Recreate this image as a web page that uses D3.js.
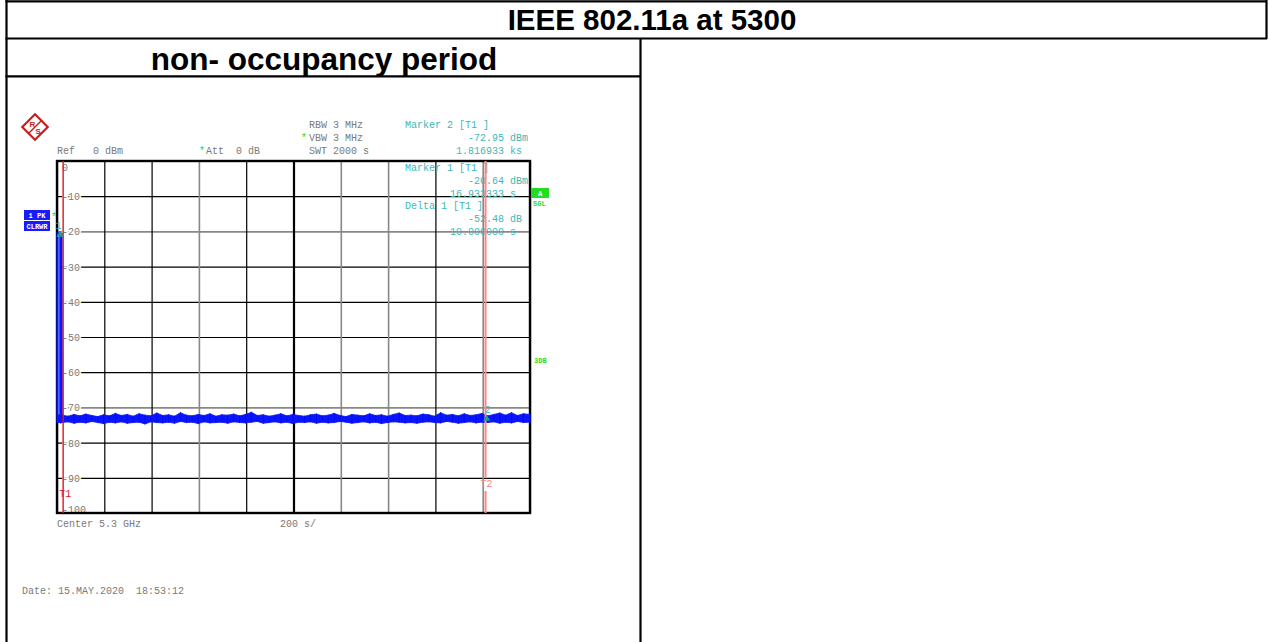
<!DOCTYPE html>
<html><head><meta charset="utf-8">
<script src="https://cdn.jsdelivr.net/npm/d3@7"></script>
<style>
body{margin:0;background:#fff;}
svg{display:block;}
.mono{font-family:"Liberation Mono","DejaVu Sans Mono",monospace;font-size:10px;}
</style></head><body>
<svg id="c" width="1269" height="642"></svg>
<script>
// ---------- data ----------
const mainTitle = "IEEE 802.11a at 5300";
const subTitle = "non- occupancy period";
const yTicks = [0,-10,-20,-30,-40,-50,-60,-70,-80,-90,-100];
const xTicks = [0,200,400,600,800,1000,1200,1400,1600,1800,2000];
// initial burst (time s, max dBm, min dBm)
const burstTimes = [0, 5, 10, 15, 20];
const burstMax = [-20.4, -20.5, -20.3, -20.6, -20.6];
const burstMin = [-74.2, -74.3, -74.1, -74.4, -74.2];
// noise floor envelope, sampled every 25 s from 22 s
const noiseStart = 22, noiseStep = 25;
const noiseMax = [-72.2,-72.5,-72.0,-72.4,-71.9,-72.3,-72.6,-72.1,-72.4,-71.7,
 -72.3,-72.0,-72.5,-71.8,-72.2,-72.4,-71.6,-72.3,-72.1,-72.5,
 -71.5,-72.2,-72.4,-72.0,-72.3,-71.8,-72.5,-72.1,-72.2,-71.9,
 -72.4,-72.0,-71.4,-72.3,-72.1,-72.5,-72.2,-71.8,-72.4,-72.0,
 -72.3,-72.5,-72.1,-71.9,-72.4,-72.2,-71.7,-72.3,-72.6,-72.0,
 -72.2,-72.4,-71.8,-72.3,-72.1,-72.5,-72.0,-71.6,-72.3,-72.2,
 -72.4,-71.9,-72.1,-72.5,-71.5,-72.2,-72.0,-72.4,-71.8,-72.3,
 -72.1,-71.7,-72.4,-72.0,-71.6,-72.2,-71.5,-72.3,-71.8,-72.0];
const noiseMin = [-74.3,-74.1,-74.5,-74.2,-74.4,-74.0,-74.3,-74.6,-74.2,-74.4,
 -74.1,-74.5,-74.3,-74.2,-74.7,-74.1,-74.3,-74.4,-74.2,-74.5,
 -74.0,-74.3,-74.2,-74.6,-74.1,-74.4,-74.3,-74.2,-74.5,-74.1,
 -74.3,-74.4,-74.2,-74.0,-74.5,-74.3,-74.1,-74.4,-74.2,-74.6,
 -74.2,-74.3,-74.1,-74.5,-74.2,-74.4,-74.3,-74.0,-74.2,-74.5,
 -74.3,-74.1,-74.4,-74.2,-74.6,-74.3,-74.1,-74.2,-74.4,-74.3,
 -74.5,-74.2,-74.1,-74.3,-74.4,-74.0,-74.2,-74.5,-74.3,-74.1,
 -74.4,-74.2,-74.3,-74.1,-74.5,-74.2,-74.4,-74.0,-74.3,-74.2];
const markers = [{id:"1", t:16.93, v:-20.64}, {id:"2", t:1816.93, v:-72.95}];
const displayLines = [{label:"T1", t:26}, {label:"T2", t:1812}];
const settings = ["RBW 3 MHz","VBW 3 MHz","SWT 2000 s"];
const markerHeads = ["Marker 2 [T1 ]","Marker 1 [T1 ]","Delta 1 [T1 ]"];
const markerVals = [["-72.95 dBm","1.816933 ks "],["-20.64 dBm","16.933333 s  "],["-52.48 dB ","10.000000 s  "]];
const refText = "Ref   0 dBm";
const attText = "Att  0 dB";
const footerLeft = "Center 5.3 GHz";
const footerMid = "200 s/";
const dateText = "Date: 15.MAY.2020  18:53:12";

// ---------- drawing ----------
const svg = d3.select("#c");
const L = 57, R = 530, T = 161, B = 513;
const x = d3.scaleLinear().domain([0,2000]).range([L,R]);
const y = d3.scaleLinear().domain([0,-100]).range([T,B]);
const grey = "#7a7a7a", teal = "#3cb8b8", green = "#22dd22";

// table borders
const bl = svg.append("g").attr("stroke","#000").attr("stroke-width",2.2);
bl.append("line").attr("x1",6.5).attr("x2",6.5).attr("y1",0).attr("y2",642);
bl.append("line").attr("x1",5.5).attr("x2",1267).attr("y1",1.3).attr("y2",1.3);
bl.append("line").attr("x1",1266.5).attr("x2",1266.5).attr("y1",0).attr("y2",39);
bl.append("line").attr("x1",5.5).attr("x2",1267).attr("y1",38.5).attr("y2",38.5);
bl.append("line").attr("x1",5.5).attr("x2",641).attr("y1",76.3).attr("y2",76.3);
bl.append("line").attr("x1",640.5).attr("x2",640.5).attr("y1",38).attr("y2",642);

svg.append("text").attr("x",652).attr("y",30).attr("text-anchor","middle")
  .attr("font-family","Liberation Sans, Arial, sans-serif").attr("font-weight","bold")
  .attr("font-size",29.5).text(mainTitle);
svg.append("text").attr("x",324).attr("y",70).attr("text-anchor","middle")
  .attr("font-family","Liberation Sans, Arial, sans-serif").attr("font-weight","bold")
  .attr("font-size",31.5).text(subTitle);

// grid via axes
const greyY = new Set([-20,-70]);
const greyX = new Set([600,1200,1400,1800]);
const gy = svg.append("g").attr("transform",`translate(${L},0)`)
  .call(d3.axisLeft(y).tickValues(yTicks).tickSize(-(R-L)).tickFormat(d=>d));
gy.select(".domain").remove();
gy.selectAll(".tick line").attr("stroke",d=>greyY.has(d)?"#888":"#000")
  .attr("stroke-width",d=>greyY.has(d)?1.6:1.2);
gy.selectAll(".tick text").attr("class","mono").attr("fill",grey)
  .attr("text-anchor","start").attr("x",5)
  .attr("dy",d=>d===0?"0.9em":d===-100?"-0.1em":"0.35em")
  .attr("stroke","#fff").attr("stroke-width",3).attr("paint-order","stroke")
  .style("font-size","10px").style("font-family","Liberation Mono, monospace");

const gx = svg.append("g").attr("transform",`translate(0,${B})`)
  .call(d3.axisBottom(x).tickValues(xTicks).tickSize(-(B-T)).tickFormat(""));
gx.select(".domain").remove();
gx.selectAll(".tick line").attr("stroke",d=>greyX.has(d)?"#888":"#000")
  .attr("stroke-width",d=>d===1000?2.2:(greyX.has(d)?1.6:1.2));

// frame
svg.append("rect").attr("x",L).attr("y",T).attr("width",R-L).attr("height",B-T)
  .attr("fill","none").attr("stroke","#000").attr("stroke-width",2.4);

// header texts
const mono = (sel)=>sel.attr("class","mono").attr("xml:space","preserve");
mono(svg.append("text")).attr("x",57).attr("y",154).attr("fill",grey).text(refText);
mono(svg.append("text")).attr("x",206).attr("y",154).attr("fill",grey).text(attText);
mono(svg.append("text")).attr("x",199).attr("y",154).attr("fill",green).text("*");
settings.forEach((s,i)=>{
  mono(svg.append("text")).attr("x",309).attr("y",128+i*13).attr("fill",grey).text(s);
});
mono(svg.append("text")).attr("x",301).attr("y",141).attr("fill",green).text("*");
const headY = [128,171,209];
markerHeads.forEach((h,g)=>{
  mono(svg.append("text")).attr("x",405).attr("y",headY[g]).attr("fill",teal).text(h);
  markerVals[g].forEach((v,k)=>{
    mono(svg.append("text")).attr("x",528).attr("y",headY[g]+(k+1)*12.8)
      .attr("text-anchor","end").attr("fill",teal).text(v);
  });
});

// data trace
const blue = "#0a14ff";
const burst = burstTimes.map((t,i)=>({t,hi:burstMax[i],lo:burstMin[i]}));
svg.append("path").datum(burst)
  .attr("d",d3.area().x(d=>x(d.t)).y0(d=>y(d.lo)).y1(d=>y(d.hi)))
  .attr("fill",blue).attr("stroke",blue).attr("stroke-width",1.2);
svg.append("line").attr("x1",x(8)).attr("x2",x(8)).attr("y1",y(-21)).attr("y2",y(-72))
  .attr("stroke","#6a88ff").attr("stroke-width",1.2);
const noise = noiseMax.map((v,i)=>({t:noiseStart+i*noiseStep,hi:v,lo:noiseMin[i]}));
noise[noise.length-1].t = 2000;
svg.append("path").datum([burst[burst.length-1],...noise])
  .attr("d",d3.area().x(d=>x(d.t)).y0(d=>y(d.lo)).y1(d=>y(d.hi)))
  .attr("fill",blue).attr("stroke",blue).attr("stroke-width",0.8);
svg.append("g").selectAll("line").data(noise).join("line")
  .attr("x1",d=>x(d.t)).attr("x2",d=>x(d.t))
  .attr("y1",d=>y(d.hi)-0.5).attr("y2",d=>y(d.lo)+0.5)
  .attr("stroke","#0010e8").attr("stroke-width",1);

// display lines
displayLines.forEach((dl,i)=>{
  const xx = x(dl.t);
  const col = i===0?"#e8141a":"#ff8484";
  const ly = i===0?B-16:B-26;
  svg.append("line").attr("x1",xx).attr("x2",xx).attr("y1",T).attr("y2",i===0?B:ly-10)
    .attr("stroke",col).attr("stroke-width",i===0?1.4:2);
  if(i===1) svg.append("line").attr("x1",xx).attr("x2",xx).attr("y1",ly+4).attr("y2",B)
    .attr("stroke",col).attr("stroke-width",2);
  mono(svg.append("text")).attr("x",xx-(i===0?4:5)).attr("y",ly).attr("fill",col).text(dl.label);
});

// markers
markers.forEach(m=>{
  const mx = x(m.t), my = y(m.v);
  svg.append("path").attr("d",d3.symbol(d3.symbolTriangle,22)())
    .attr("transform",`translate(${mx-(m.id==="1"?1:0)},${my+1})`).attr("fill","#1f9f8f");
  mono(svg.append("text")).attr("x",m.id==="1"?mx-5.5:mx-2).attr("y",my-5).attr("fill",teal).text(m.id);
});

// side boxes
const box = (bx,by,w,h,fill,txt,tcol)=>{
  svg.append("rect").attr("x",bx).attr("y",by).attr("width",w).attr("height",h).attr("fill",fill);
  svg.append("text").attr("x",bx+w/2).attr("y",by+h/2+2.5).attr("text-anchor","middle")
    .attr("font-family","Liberation Mono, monospace").attr("font-size",7).attr("font-weight","bold")
    .attr("fill",tcol).attr("xml:space","preserve").text(txt);
};
box(24,210,26,10,"#1a1aff","1 PK","#fff");
box(24,221,26,10,"#1a1aff","CLRWR","#fff");
svg.append("text").attr("x",51).attr("y",220).attr("class","mono").attr("fill",green).text("*");
box(531,188,18,10,"#22dd22","A","#fff");
svg.append("text").attr("x",533).attr("y",206).attr("font-family","Liberation Mono, monospace")
  .attr("font-size",7).attr("font-weight","bold").attr("fill",green).text("SGL");
svg.append("text").attr("x",534).attr("y",363).attr("font-family","Liberation Mono, monospace")
  .attr("font-size",7).attr("font-weight","bold").attr("fill",green).text("3DB");

// R&S logo
const lg = svg.append("g").attr("transform","translate(35,127)");
lg.append("rect").attr("x",-9).attr("y",-9).attr("width",18).attr("height",18)
  .attr("transform","rotate(45)").attr("fill","#fff").attr("stroke","#c81e1e").attr("stroke-width",2.2);
lg.append("line").attr("x1",-7).attr("y1",7).attr("x2",7).attr("y2",-7).attr("stroke","#c81e1e").attr("stroke-width",1.5);
lg.append("text").attr("x",-5.5).attr("y",-0.5).attr("font-size",8).attr("font-weight","bold")
  .attr("font-family","Liberation Sans, sans-serif").attr("fill","#c81e1e").text("R");
lg.append("text").attr("x",0.5).attr("y",7).attr("font-size",8).attr("font-weight","bold")
  .attr("font-family","Liberation Sans, sans-serif").attr("fill","#c81e1e").text("S");

// footer
mono(svg.append("text")).attr("x",57).attr("y",527).attr("fill",grey).text(footerLeft);
mono(svg.append("text")).attr("x",280).attr("y",527).attr("fill",grey).text(footerMid);
mono(svg.append("text")).attr("x",22).attr("y",594).attr("fill",grey).text(dateText);
</script></body></html>
